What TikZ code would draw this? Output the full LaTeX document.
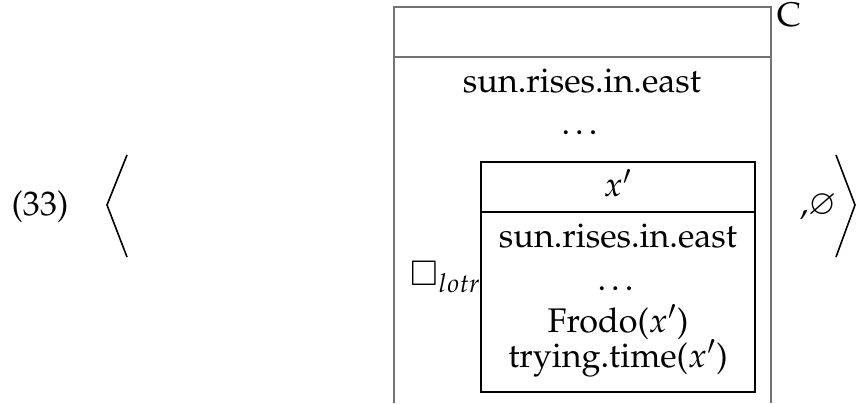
\documentclass[tikz,border=0pt]{standalone}
\usepackage{amsmath,amssymb}
\usepackage[T1]{fontenc}
\usepackage{mathpazo}
\usepackage{tikz}
\usetikzlibrary{positioning}

\tikzset{
  boxline/.style={draw=black!55,line width=0.7pt},
  innerline/.style={draw=black,line width=0.5pt},
  cond/.style={inner sep=0pt,anchor=base},
  bracket/.style={line width=0.6pt}
}

\begin{document}
\begin{tikzpicture}[x=0.375pt,y=0.375pt,font=\fontsize{12.8}{15}\selectfont]
 \useasboundingbox (0,0) rectangle (857,403);
 % outer box (open at the bottom)
 \draw[boxline] (394,0) -- (394,396) -- (771,396) -- (771,0);
 \draw[boxline] (394,346) -- (771,346);
 % inner box
 \draw[innerline] (481,11) rectangle (755,241);
 \draw[innerline] (481,191) -- (755,191);
 % angle brackets
 \coordinate (lt) at (127,248);
 \coordinate (lm) at (107,198);
 \coordinate (lb) at (127,146);
 \coordinate (rt) at (836,248);
 \coordinate (rm) at (855,198);
 \coordinate (rb) at (836,146);
 \draw[bracket] (lt) -- (lm) -- (lb);
 \draw[bracket] (rt) -- (rm) -- (rb);
 \node[cond] (num) at (40,187) {(33)};
 \node[cond] (empty) at (818,188) {,$\varnothing$};
 \node[cond] (label) at (789,376) {C};
 % outer conditions
 \node[cond] (sunout) at (582,310) {sun.rises.in.east};
 \node[cond] (dotsout) at (582,268) {\dots};
 \node[cond] (modal) at (446,118) {$\Box_{lotr}$};
 % inner box
 \node[cond] (ref) at (618,206) {$x'$};
 \node[cond] (sunin) at (618,156) {sun.rises.in.east};
 \node[cond] (dotsin) at (618,113) {\dots};
 \node[cond] (frodo) at (618,71) {Frodo($x'$)};
 \node[cond] (trying) at (618,36) {trying.time($x'$)};
\end{tikzpicture}
\end{document}
